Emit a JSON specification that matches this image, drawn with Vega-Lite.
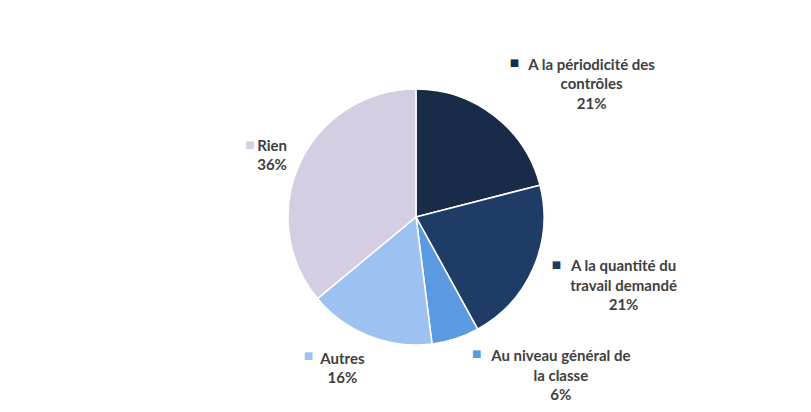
{
  "$schema": "https://vega.github.io/schema/vega-lite/v6.json",
  "width": 811,
  "height": 412,
  "autosize": {"type": "fit", "contains": "padding"},
  "padding": {"left": 21, "top": 18, "right": 0, "bottom": 0},
  "background": "white",
  "view": {"stroke": null},
  "data": {
    "values": [
      {"ord": 1, "cat": "A la périodicité des contrôles", "lines": ["A la périodicité des", "contrôles", "21%"], "value": 21},
      {"ord": 2, "cat": "A la quantité du travail demandé", "lines": ["A la quantité du", "travail demandé", "21%"], "value": 21},
      {"ord": 3, "cat": "Au niveau général de la classe", "lines": ["Au niveau général de", "la classe", "6%"], "value": 6},
      {"ord": 4, "cat": "Autres", "lines": ["Autres", "16%"], "value": 16},
      {"ord": 5, "cat": "Rien", "lines": ["Rien", "36%"], "value": 36}
    ]
  },
  "encoding": {
    "theta": {"field": "value", "type": "quantitative", "stack": true},
    "order": {"field": "ord", "type": "quantitative", "sort": "ascending"}
  },
  "layer": [
    {
      "mark": {"type": "arc", "outerRadius": 128, "stroke": "white", "strokeWidth": 1.5},
      "encoding": {
        "color": {"field": "cat", "type": "nominal", "legend": null,
          "scale": {"domain": ["A la périodicité des contrôles", "A la quantité du travail demandé", "Au niveau général de la classe", "Autres", "Rien"],
                    "range": ["#182b48", "#1e3c65", "#5b9ae0", "#9dc2f2", "#d5cee3"]}}
      }
    },
    {
      "mark": {"type": "text", "radius": 200, "dx": 53, "dy": 6, "font": "Lato", "fontWeight": "bold", "fontSize": 15, "lineHeight": 19.3, "color": "#404040", "align": "center", "baseline": "middle"},
      "encoding": {"text": {"condition": {"test": "datum.ord === 1", "field": "lines", "type": "nominal"}, "value": ""}}
    },
    {
      "mark": {"type": "text", "radius": 200, "dx": 24, "dy": -30, "font": "Lato", "fontWeight": "bold", "fontSize": 15, "lineHeight": 19.3, "color": "#404040", "align": "center", "baseline": "middle"},
      "encoding": {"text": {"condition": {"test": "datum.ord === 2", "field": "lines", "type": "nominal"}, "value": ""}}
    },
    {
      "mark": {"type": "text", "radius": 200, "dx": 83, "dy": -51, "font": "Lato", "fontWeight": "bold", "fontSize": 15, "lineHeight": 19.3, "color": "#404040", "align": "center", "baseline": "middle"},
      "encoding": {"text": {"condition": {"test": "datum.ord === 3", "field": "lines", "type": "nominal"}, "value": ""}}
    },
    {
      "mark": {"type": "text", "radius": 200, "dx": 0, "dy": -44, "font": "Lato", "fontWeight": "bold", "fontSize": 15, "lineHeight": 19.3, "color": "#404040", "align": "center", "baseline": "middle"},
      "encoding": {"text": {"condition": {"test": "datum.ord === 4", "field": "lines", "type": "nominal"}, "value": ""}}
    },
    {
      "mark": {"type": "text", "radius": 200, "dx": 37, "dy": 14, "font": "Lato", "fontWeight": "bold", "fontSize": 15, "lineHeight": 19.3, "color": "#404040", "align": "center", "baseline": "middle"},
      "encoding": {"text": {"condition": {"test": "datum.ord === 5", "field": "lines", "type": "nominal"}, "value": ""}}
    },
    {
      "mark": {"type": "text", "radius": 200, "dx": -24, "dy": 4, "font": "DejaVu Sans", "fontSize": 10, "align": "center", "baseline": "middle"},
      "encoding": {
        "text": {"condition": {"test": "datum.ord === 1", "value": "■"}, "value": ""},
        "color": {"field": "cat", "type": "nominal", "legend": null}
      }
    },
    {
      "mark": {"type": "text", "radius": 200, "dx": -43, "dy": -31.5, "font": "DejaVu Sans", "fontSize": 10, "align": "center", "baseline": "middle"},
      "encoding": {
        "text": {"condition": {"test": "datum.ord === 2", "value": "■"}, "value": ""},
        "color": {"field": "cat", "type": "nominal", "legend": null}
      }
    },
    {
      "mark": {"type": "text", "radius": 200, "dx": -1, "dy": -53, "font": "DejaVu Sans", "fontSize": 10, "align": "center", "baseline": "middle"},
      "encoding": {
        "text": {"condition": {"test": "datum.ord === 3", "value": "■"}, "value": ""},
        "color": {"field": "cat", "type": "nominal", "legend": null}
      }
    },
    {
      "mark": {"type": "text", "radius": 200, "dx": -34, "dy": -47, "font": "DejaVu Sans", "fontSize": 10, "align": "center", "baseline": "middle"},
      "encoding": {
        "text": {"condition": {"test": "datum.ord === 4", "value": "■"}, "value": ""},
        "color": {"field": "cat", "type": "nominal", "legend": null}
      }
    },
    {
      "mark": {"type": "text", "radius": 200, "dx": 15, "dy": 13.5, "font": "DejaVu Sans", "fontSize": 10, "align": "center", "baseline": "middle"},
      "encoding": {
        "text": {"condition": {"test": "datum.ord === 5", "value": "■"}, "value": ""},
        "color": {"field": "cat", "type": "nominal", "legend": null}
      }
    }
  ]
}
